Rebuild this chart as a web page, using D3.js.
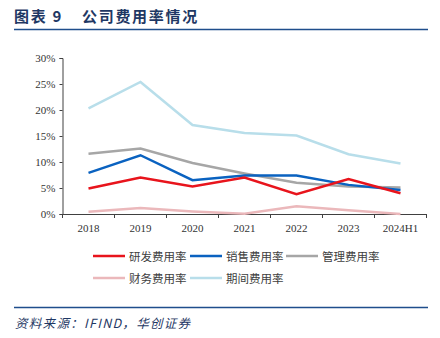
<!DOCTYPE html>
<html lang="zh">
<head>
<meta charset="utf-8">
<title>公司费用率情况</title>
<script src="https://cdn.jsdelivr.net/npm/d3@7/dist/d3.min.js"></script>
<style>
body { margin: 0; background: #fff; }
.tick-label { font-family: "Liberation Serif", "Times New Roman", serif; font-size: 11px; fill: #333; }
.legend-label { font-family: "Noto Sans CJK SC", sans-serif; font-size: 11.5px; fill: #404040; }
.title { font-family: "Noto Sans CJK SC", sans-serif; font-size: 15px; font-weight: bold; fill: #1f3864; letter-spacing: 1.7px; }
.source { font-family: "Noto Sans CJK SC", sans-serif; font-size: 12.5px; font-style: italic; fill: #1f3864; letter-spacing: 1.3px; }
</style>
</head>
<body>
<script>
var years = ["2018", "2019", "2020", "2021", "2022", "2023", "2024H1"];
var seriesNames = ["研发费用率", "销售费用率", "管理费用率", "财务费用率", "期间费用率"];
var rdRate    = [4.9, 7.0, 5.3, 7.0, 3.8, 6.7, 4.0];
var salesRate = [7.9, 11.3, 6.5, 7.4, 7.4, 5.6, 4.6];
var adminRate = [11.6, 12.6, 9.8, 7.8, 6.0, 5.3, 5.1];
var finRate   = [0.45, 1.15, 0.5, 0.05, 1.5, 0.7, 0.0];
var totalRate = [20.3, 25.4, 17.1, 15.6, 15.1, 11.5, 9.7];
var yTicks = [0, 5, 10, 15, 20, 25, 30];

var colors = ["#e8141c", "#0a62c0", "#a6a6a6", "#ebb8bb", "#b8deea"];
var allSeries = [rdRate, salesRate, adminRate, finRate, totalRate];
// draw order: total first so others sit on top, like the original
var drawOrder = [4, 3, 2, 1, 0];

var W = 440, H = 338;
var plot = {left: 62.5, right: 426.5, top: 58, bottom: 214};

var svg = d3.select("body").append("svg")
    .attr("width", W).attr("height", H);

// title and rules
svg.append("text").attr("class", "title")
    .attr("x", 14).attr("y", 22)
    .text("图表 9");
svg.append("text").attr("class", "title")
    .attr("x", 82).attr("y", 22)
    .text("公司费用率情况");
svg.append("line")
    .attr("x1", 14).attr("x2", 428).attr("y1", 29.5).attr("y2", 29.5)
    .attr("stroke", "#1f4e8c").attr("stroke-width", 1.5);
svg.append("line")
    .attr("x1", 14).attr("x2", 428).attr("y1", 307.5).attr("y2", 307.5)
    .attr("stroke", "#1f4e8c").attr("stroke-width", 1.5);
svg.append("text").attr("class", "source")
    .attr("x", 15).attr("y", 328)
    .text("资料来源：IFIND，华创证券");

var x = d3.scaleBand().domain(years).range([plot.left, plot.right]).padding(0);
var y = d3.scaleLinear().domain([0, 30]).range([plot.bottom, plot.top]);

// y axis
var yAxis = d3.axisLeft(y).tickValues(yTicks).tickSize(3).tickPadding(4)
    .tickFormat(function(d) { return d + "%"; });
var gy = svg.append("g").attr("transform", "translate(" + plot.left + ",0)").call(yAxis);
gy.select(".domain").attr("stroke", "#404040");
gy.selectAll(".tick line").attr("stroke", "#404040");
gy.selectAll(".tick text").attr("class", "tick-label").attr("font-size", null).attr("font-family", null);

// x axis: labels centred in bands, ticks on band boundaries
var xAxis = d3.axisBottom(x).tickSize(0).tickPadding(10);
var gx = svg.append("g").attr("transform", "translate(0," + plot.bottom + ")").call(xAxis);
gx.select(".domain").attr("stroke", "#404040");
gx.selectAll(".tick text").attr("class", "tick-label").attr("font-size", null).attr("font-family", null);
var bounds = years.map(function(d) { return x(d); }).concat([x.range()[1]]);
gx.selectAll(".bound").data(bounds).enter().append("line")
    .attr("x1", function(d) { return d; }).attr("x2", function(d) { return d; })
    .attr("y1", 0).attr("y2", 4)
    .attr("stroke", "#404040");

// lines
var line = d3.line()
    .x(function(d, i) { return x(years[i]) + x.bandwidth() / 2; })
    .y(function(d) { return y(d); });

drawOrder.forEach(function(k) {
    svg.append("path")
        .datum(allSeries[k])
        .attr("fill", "none")
        .attr("stroke", colors[k])
        .attr("stroke-width", 2.5)
        .attr("d", line);
});

// legend
var legendCols = [93, 190, 286];
var legendRows = [256, 278];
var legend = svg.selectAll(".legend").data(seriesNames).enter().append("g")
    .attr("transform", function(d, i) {
        return "translate(" + legendCols[i % 3] + "," + legendRows[Math.floor(i / 3)] + ")";
    });
legend.append("line")
    .attr("x1", 0).attr("x2", 32).attr("y1", 0).attr("y2", 0)
    .attr("stroke", function(d, i) { return colors[i]; })
    .attr("stroke-width", 2.5);
legend.append("text").attr("class", "legend-label")
    .attr("x", 36).attr("y", 4.5)
    .text(function(d) { return d; });
</script>
</body>
</html>
